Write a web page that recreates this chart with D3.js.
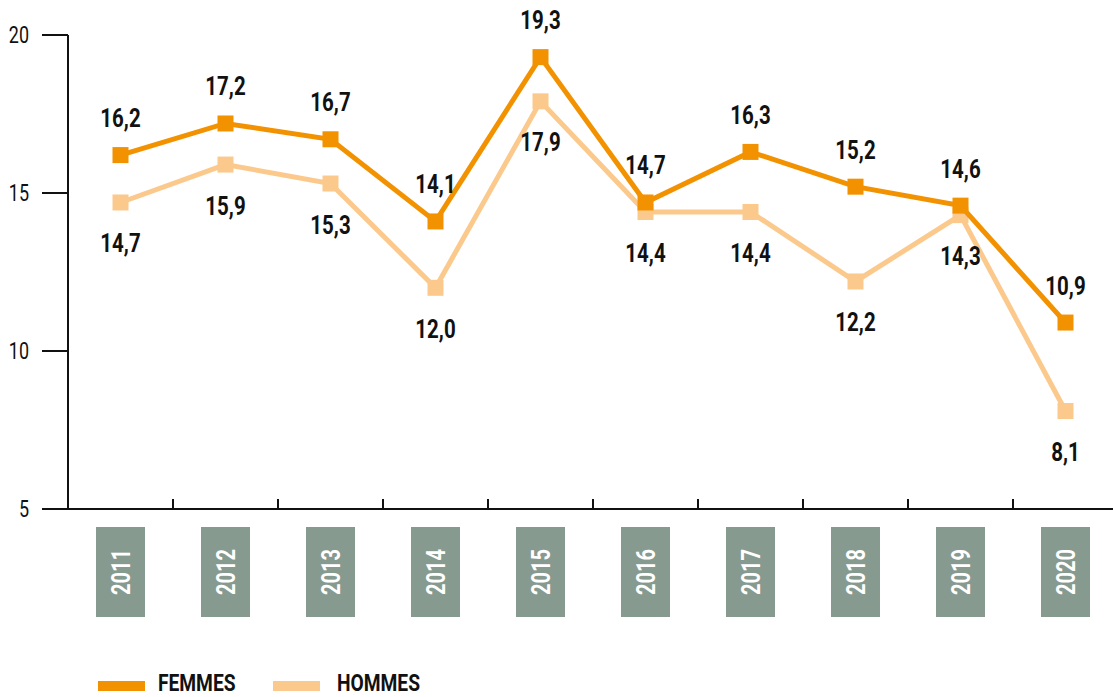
<!DOCTYPE html>
<html>
<head>
<meta charset="utf-8">
<script src="https://cdn.jsdelivr.net/npm/d3@7"></script>
<style>
body { margin: 0; background: #fff; }
text { font-family: Roboto, "DejaVu Sans Condensed", sans-serif; }
</style>
</head>
<body>
<script>
var Width = 1113;
var Height = 697;

var years = ["2011", "2012", "2013", "2014", "2015", "2016", "2017", "2018", "2019", "2020"];
var femmes = [16.2, 17.2, 16.7, 14.1, 19.3, 14.7, 16.3, 15.2, 14.6, 10.9];
var hommes = [14.7, 15.9, 15.3, 12.0, 17.9, 14.4, 14.4, 12.2, 14.3, 8.1];
var yTicks = [5, 10, 15, 20];

var seriesNames = ["FEMMES", "HOMMES"];
var colors = ["#f39200", "#fcc98c"];

// the original uses a condensed gothic, squeeze Roboto to get close
var squeeze = 0.82;

var svg = d3.select("body").append("svg")
	.attr("width", Width)
	.attr("height", Height);

var x = d3.scaleBand()
	.domain(years)
	.range([68, 1118]);

var y = d3.scaleLinear()
	.domain([5, 20])
	.range([509, 35]);

function cx(i) {
	return x(years[i]) + x.bandwidth() / 2;
}

// y axis
svg.append("line")
	.attr("x1", 68).attr("x2", 68)
	.attr("y1", y(20)).attr("y2", y(5))
	.attr("stroke", "#111").attr("stroke-width", 2);

svg.append("g")
	.selectAll("line")
	.data(yTicks)
	.enter()
	.append("line")
	.attr("x1", 42).attr("x2", 68)
	.attr("y1", d => y(d)).attr("y2", d => y(d))
	.attr("stroke", "#111").attr("stroke-width", 2);

svg.append("g")
	.selectAll("text")
	.data(yTicks)
	.enter()
	.append("text")
	.attr("transform", d => "translate(29," + (y(d) + 8) + ") scale(0.78,1)")
	.attr("text-anchor", "end")
	.attr("font-size", 23)
	.attr("fill", "#111")
	.text(d => d);

// x axis
svg.append("line")
	.attr("x1", 42).attr("x2", Width)
	.attr("y1", y(5)).attr("y2", y(5))
	.attr("stroke", "#111").attr("stroke-width", 2);

svg.append("g")
	.selectAll("line")
	.data(years.slice(1))
	.enter()
	.append("line")
	.attr("x1", d => x(d)).attr("x2", d => x(d))
	.attr("y1", y(5) - 10).attr("y2", y(5))
	.attr("stroke", "#111").attr("stroke-width", 2);

// year boxes
var yearG = svg.append("g")
	.selectAll("g")
	.data(years)
	.enter()
	.append("g")
	.attr("transform", (d, i) => "translate(" + cx(i) + ",572)");

yearG.append("rect")
	.attr("x", -24.5).attr("y", -45)
	.attr("width", 49).attr("height", 90)
	.attr("fill", "#879a90");

yearG.append("text")
	.attr("transform", "rotate(-90) scale(0.8,1)")
	.attr("text-anchor", "middle")
	.attr("dy", 9)
	.attr("font-size", 25)
	.attr("font-weight", "bold")
	.attr("fill", "#fff")
	.text(d => d);

// lines
var line = d3.line()
	.x((d, i) => cx(i))
	.y(d => y(d));

function fmt(v) {
	return d3.format(".1f")(v).replace(".", ",");
}

function drawSeries(data, color) {
	svg.append("path")
		.datum(data)
		.attr("fill", "none")
		.attr("stroke", color)
		.attr("stroke-width", 5)
		.attr("d", line);

	svg.append("g")
		.selectAll("rect")
		.data(data)
		.enter()
		.append("rect")
		.attr("x", (d, i) => cx(i) - 8)
		.attr("y", d => y(d) - 8)
		.attr("width", 16)
		.attr("height", 16)
		.attr("fill", color);
}

drawSeries(hommes, colors[1]);
drawSeries(femmes, colors[0]);

// value labels
function valueLabels(data, dy) {
	svg.append("g")
		.selectAll("text")
		.data(data)
		.enter()
		.append("text")
		.attr("transform", (d, i) => "translate(" + cx(i) + "," + (y(d) + dy) + ") scale(" + squeeze + ",1)")
		.attr("text-anchor", "middle")
		.attr("font-size", 25)
		.attr("font-weight", "bold")
		.attr("fill", "#111")
		.text(d => fmt(d));
}

valueLabels(femmes, -28);
valueLabels(hommes, 50);

// legend
var legendX = [98, 273];
var legend = svg.append("g")
	.selectAll("g")
	.data(seriesNames)
	.enter()
	.append("g")
	.attr("transform", (d, i) => "translate(" + legendX[i] + ",681)");

legend.append("rect")
	.attr("width", 47).attr("height", 10)
	.attr("fill", (d, i) => colors[i]);

legend.append("text")
	.attr("transform", (d, i) => "translate(" + (i == 0 ? 60 : 64) + ",10) scale(0.8,1)")
	.attr("font-size", 24)
	.attr("font-weight", "bold")
	.attr("fill", "#111")
	.text(d => d);
</script>
</body>
</html>
